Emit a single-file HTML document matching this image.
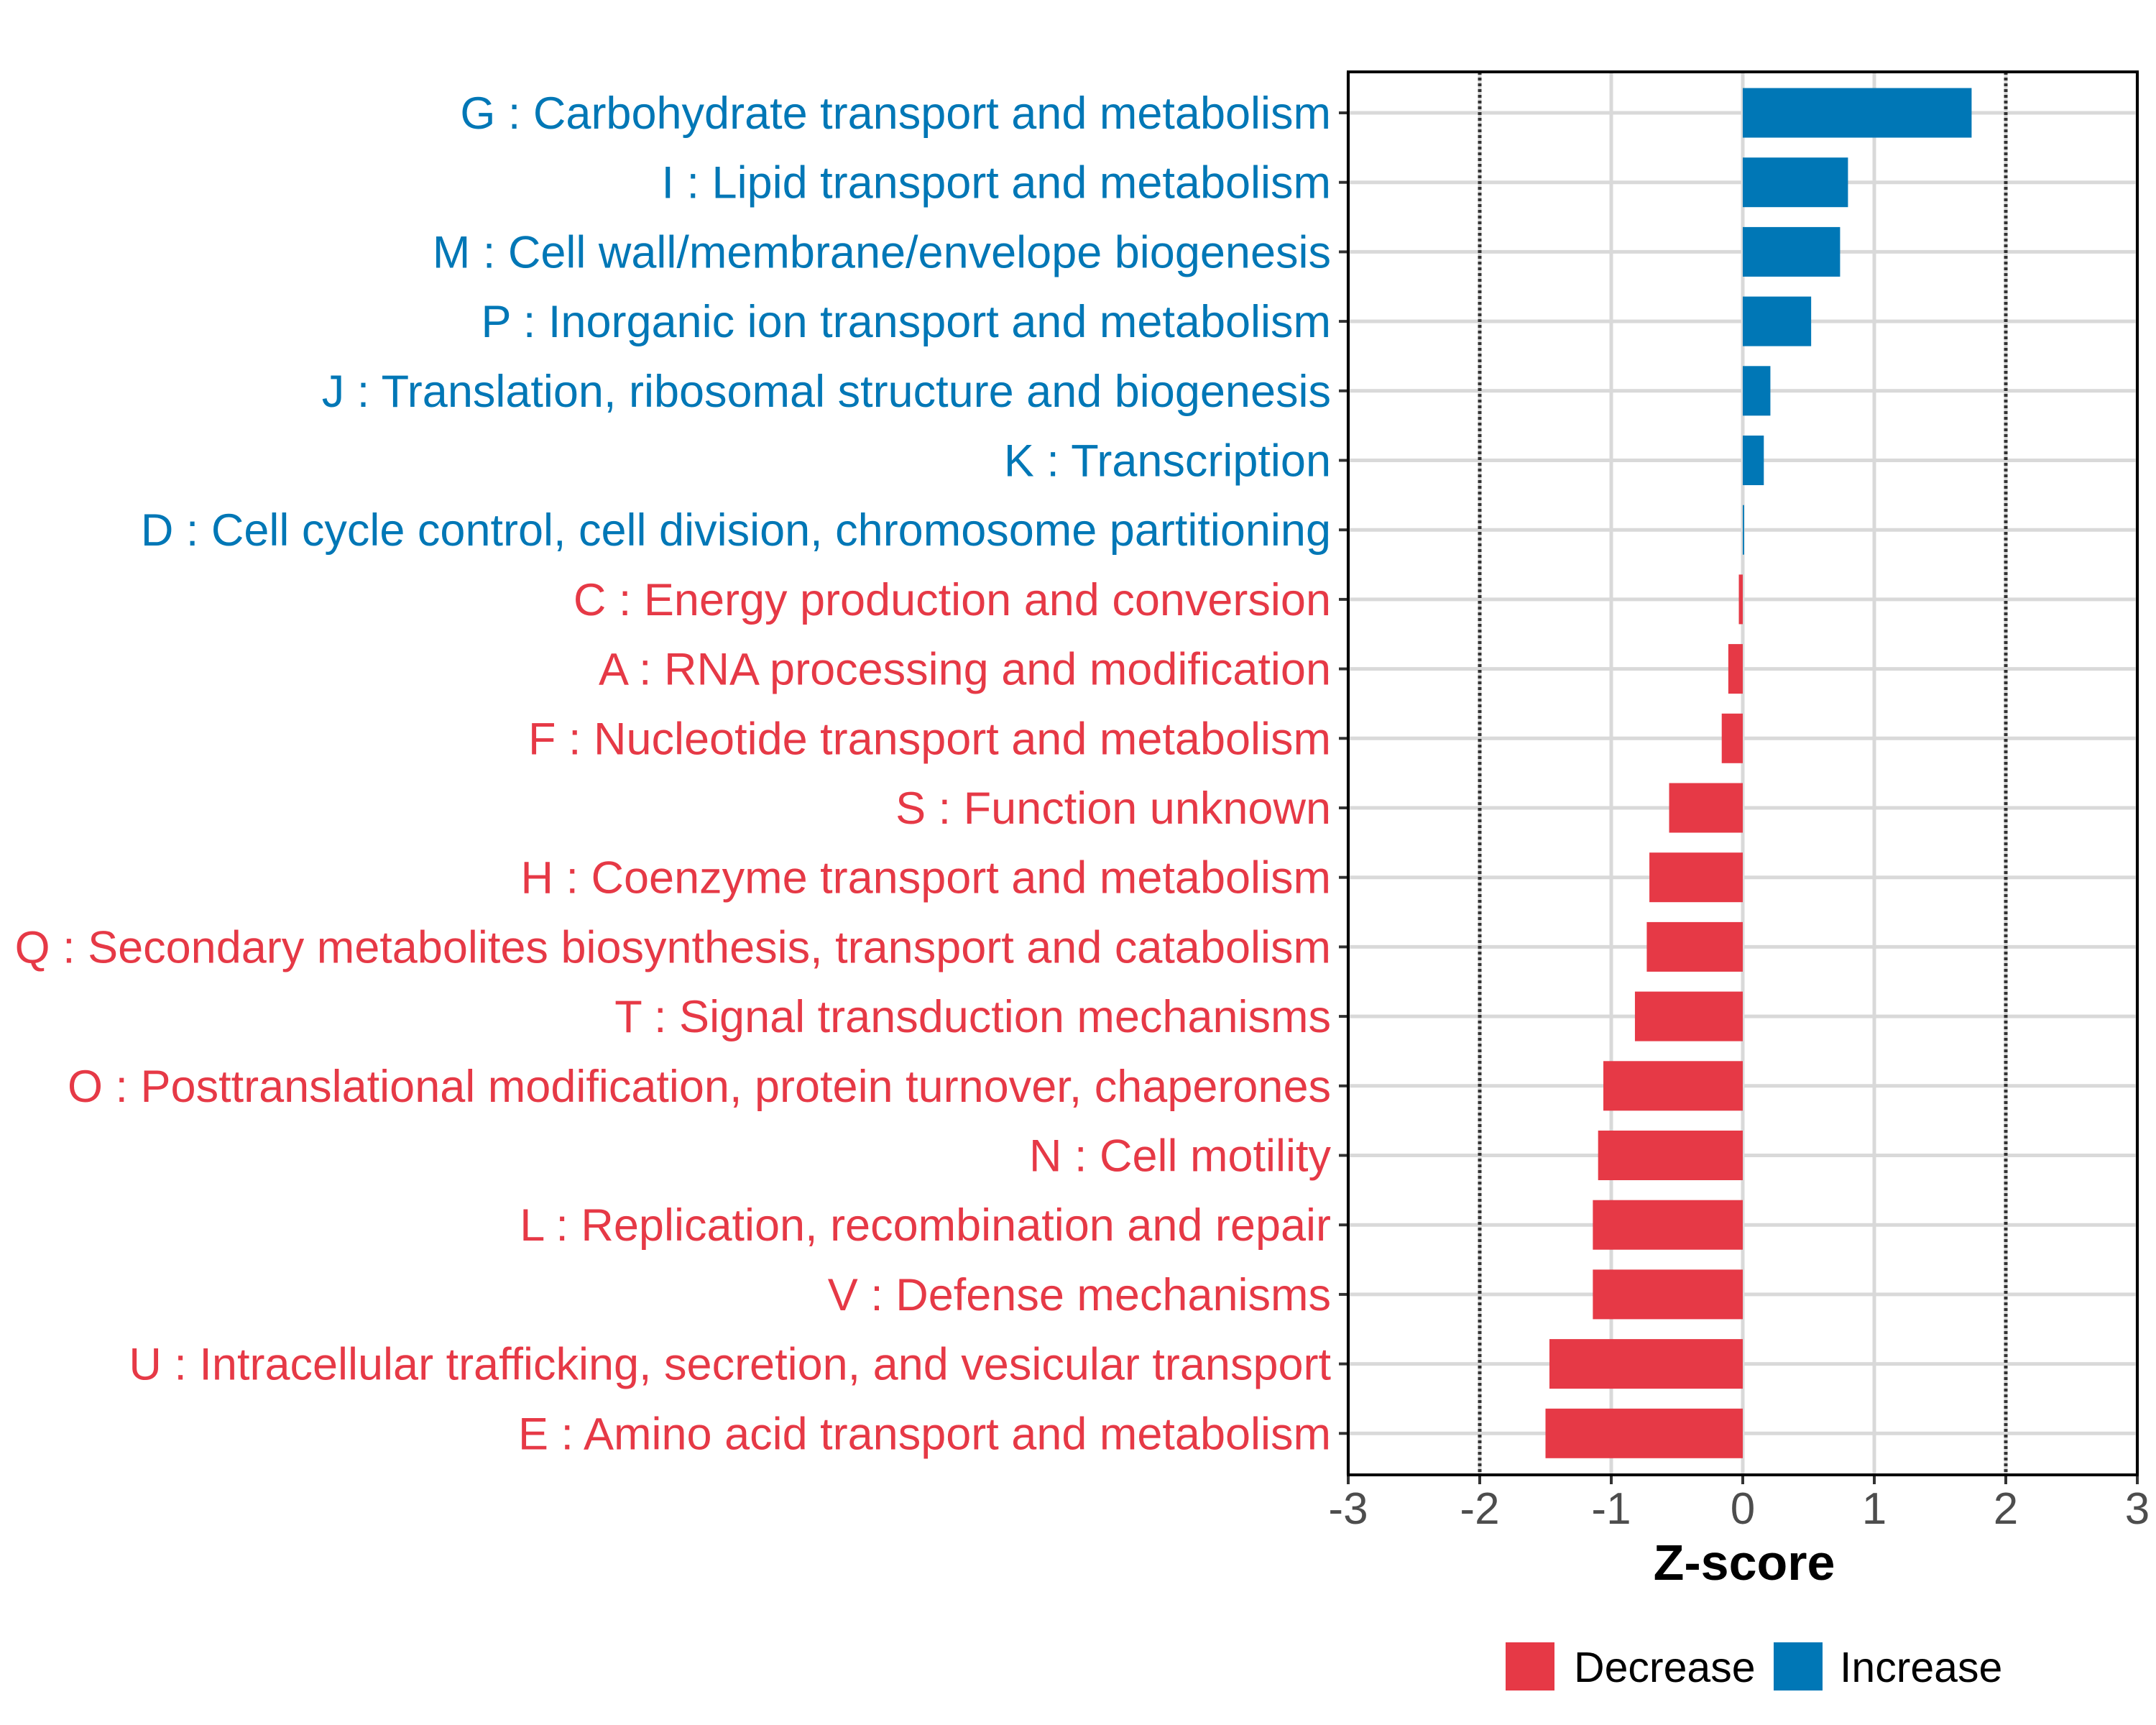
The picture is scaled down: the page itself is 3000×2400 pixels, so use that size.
<!DOCTYPE html>
<html><head><meta charset="utf-8"><style>
html,body{margin:0;padding:0;background:#fff;}
svg{display:block;font-family:"Liberation Sans",Arial,sans-serif;}
</style></head><body>
<svg id="chart" width="3000" height="2400" viewBox="0 0 3000 2400" xmlns="http://www.w3.org/2000/svg">
<rect x="0" y="0" width="3000" height="2400" fill="#fff"/>
<g id="grid"></g>
<g id="bars"></g>
<g id="ylabels"></g>
<g id="xaxis"></g>
<rect x="1876" y="100" width="1098" height="1952" fill="none" stroke="#000" stroke-width="4"/>
<text x="2427" y="2198" text-anchor="middle" font-size="70" font-weight="bold" fill="#000">Z-score</text>
<g>
  <rect x="2095" y="2285" width="68" height="67" fill="#E63946"/>
  <text x="2190" y="2340" font-size="59" fill="#000">Decrease</text>
  <rect x="2468" y="2285" width="68" height="67" fill="#0077B6"/>
  <text x="2560" y="2340" font-size="59" fill="#000">Increase</text>
</g>
</svg>
<script>
const categories = [
"G : Carbohydrate transport and metabolism",
"I : Lipid transport and metabolism",
"M : Cell wall/membrane/envelope biogenesis",
"P : Inorganic ion transport and metabolism",
"J : Translation, ribosomal structure and biogenesis",
"K : Transcription",
"D : Cell cycle control, cell division, chromosome partitioning",
"C : Energy production and conversion",
"A : RNA processing and modification",
"F : Nucleotide transport and metabolism",
"S : Function unknown",
"H : Coenzyme transport and metabolism",
"Q : Secondary metabolites biosynthesis, transport and catabolism",
"T : Signal transduction mechanisms",
"O : Posttranslational modification, protein turnover, chaperones",
"N : Cell motility",
"L : Replication, recombination and repair",
"V : Defense mechanisms",
"U : Intracellular trafficking, secretion, and vesicular transport",
"E : Amino acid transport and metabolism"
];
const zscores = [1.74,0.80,0.74,0.52,0.21,0.16,0.01,-0.03,-0.11,-0.16,-0.56,-0.71,-0.73,-0.82,-1.06,-1.10,-1.14,-1.14,-1.47,-1.50];
const xTicks = [-3,-2,-1,0,1,2,3];
const xTickLabels = ["-3","-2","-1","0","1","2","3"];
const thresholds = [-2,2];

const NS="http://www.w3.org/2000/svg";
const X0=1876,X1=2974,Y0=100,Y1=2052;
const xMin=-3,xMax=3;
function xs(v){return X0+(v-xMin)/(xMax-xMin)*(X1-X0);}
const rowStep=96.7, firstRow=157;
function ys(i){return firstRow+i*rowStep;}
const BLUE="#0077B6", RED="#E63946";
function mk(tag,attrs,parent){const e=document.createElementNS(NS,tag);for(const k in attrs)e.setAttribute(k,attrs[k]);parent.appendChild(e);return e;}
const grid=document.getElementById('grid'),bars=document.getElementById('bars'),yl=document.getElementById('ylabels'),xa=document.getElementById('xaxis');

xTicks.forEach((t,i)=>{
  const l=mk('line',{x1:xs(t),x2:xs(t),y1:Y0,y2:Y1,stroke:'#d9d9d9','stroke-width':5},grid);
  
  
  const tk=mk('line',{x1:xs(t),x2:xs(t),y1:Y1,y2:Y1+13,stroke:'#333','stroke-width':4},xa);
  
  
  const tx=mk('text',{x:xs(t),y:2120,'text-anchor':'middle','font-size':62,fill:'#4d4d4d'},xa);
  tx.textContent=xTickLabels[i];
  
  
});
categories.forEach((c,i)=>{
  const l=mk('line',{x1:X0,x2:X1,y1:ys(i),y2:ys(i),stroke:'#d9d9d9','stroke-width':5},grid);
  
  
});
thresholds.forEach(t=>{
  const l=mk('line',{x1:xs(t),x2:xs(t),y1:Y0,y2:Y1,stroke:'#333','stroke-width':5,'stroke-dasharray':'4 4'},grid);
  
  
});
categories.forEach((c,i)=>{
  const v=zscores[i], col=v>=0?BLUE:RED;
  const x=Math.min(xs(0),xs(v)), w=Math.max(Math.abs(xs(v)-xs(0)),1);
  const r=mk('rect',{x:x,y:ys(i)-34.5,width:w,height:69,fill:col},bars);
  
  
  const tk=mk('line',{x1:X0-13,x2:X0,y1:ys(i),y2:ys(i),stroke:'#333','stroke-width':4},yl);
  
  
  const t=mk('text',{x:1852,y:ys(i)+22,'text-anchor':'end','font-size':63,fill:col},yl);
  t.textContent=c;
  
  
});
</script>
</body></html>
